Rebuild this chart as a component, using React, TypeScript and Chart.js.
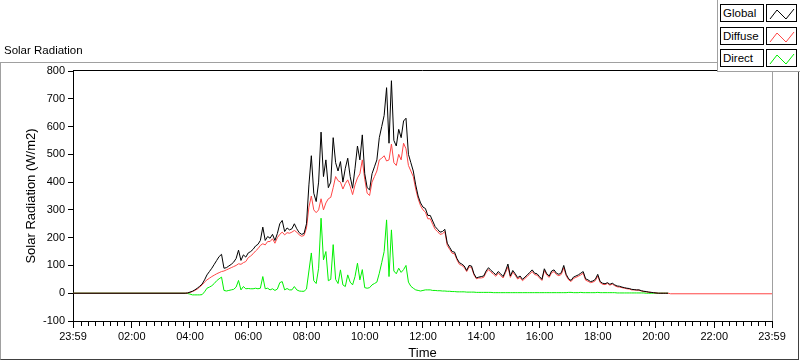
import React, { useEffect, useRef } from 'react';
import { Chart, registerables } from 'chart.js';

Chart.register(...registerables);

const FONT = '"Liberation Sans", Arial, sans-serif';

// Sample times in minutes of the day (-1 = 23:59 of the previous day)
const sampleMinutes = [
  -1,
  230, 235,
  240, 245, 250, 255, 260, 265, 270, 275, 280, 285, 290, 295,
  300, 305, 310, 315, 320, 325, 330, 335, 340, 345, 350, 355,
  360, 365, 370, 375, 380, 385, 390, 395, 400, 405, 410, 415,
  420, 425, 430, 435, 440, 445, 450, 455, 460, 465, 470, 475,
  480, 485, 490, 495, 500, 505, 510, 515, 520, 525, 530, 535,
  540, 545, 550, 555, 560, 565, 570, 575, 580, 585, 590, 595,
  600, 605, 610, 615, 620, 625, 630, 635, 640, 645, 650, 655,
  660, 665, 670, 675, 680, 685, 690, 695, 700, 705, 710, 715,
  720, 725, 730, 735, 740, 745, 750, 755, 760, 765, 770, 775,
  780, 785, 790, 795, 800, 805, 810, 815, 820, 825, 830, 835,
  840, 845, 850, 855, 860, 865, 870, 875, 880, 885, 890, 895,
  900, 905, 910, 915, 920, 925, 930, 935, 940, 945, 950, 955,
  960, 965, 970, 975, 980, 985, 990, 995, 1000, 1005, 1010, 1015,
  1020, 1025, 1030, 1035, 1040, 1045, 1050, 1055, 1060, 1065, 1070, 1075,
  1080, 1085, 1090, 1095, 1100, 1105, 1110, 1115, 1120, 1125, 1130, 1135,
  1140, 1145, 1150, 1155, 1160, 1165, 1170, 1175, 1180, 1185, 1190, 1195,
  1200, 1205, 1210, 1215, 1220, 1225,
];

const globalW = [
  0,
  0, 1,
  4, 7, 12, 18, 25, 33, 48, 66, 78, 90, 104, 118,
  132, 140, 90, 92, 98, 104, 112, 125, 155, 118, 138, 130,
  145, 150, 158, 170, 176, 190, 238, 190, 204, 198, 212, 190,
  215, 250, 262, 222, 235, 228, 232, 250, 232, 218, 212, 215,
  250, 390, 495, 360, 330, 400, 580, 420, 480, 380, 400, 560,
  470, 440, 474, 400, 450, 486, 420, 378, 450, 530, 480, 570,
  430, 380, 372, 430, 455, 480, 560, 600, 640, 740, 540, 765,
  550, 530, 590, 560, 620, 630, 500, 470, 440, 390, 350, 325,
  310, 305, 280, 280, 260, 240, 230, 220, 222, 230, 180, 165,
  150, 148, 125, 110, 105, 98, 82, 100, 98, 70, 55, 58,
  60, 62, 80, 92, 82, 75, 66, 78, 70, 60, 80, 105,
  62, 82, 70, 56, 62, 50, 58, 66, 75, 84, 72, 70,
  60, 50, 88, 70, 62, 80, 84, 72, 68, 74, 100, 68,
  52, 46, 58, 62, 66, 72, 78, 52, 48, 42, 44, 50,
  68, 42, 36, 34, 38, 32, 36, 30, 26, 25, 22, 20,
  18, 17, 14, 13, 12, 12, 9, 7, 6, 4, 3, 2,
  1, 0, 0, 0, 0, 0,
];

const diffuseW = [
  0,
  0, 1,
  3, 6, 10, 15, 22, 30, 40, 48, 54, 60, 65, 70,
  74, 78, 80, 84, 88, 92, 96, 100, 106, 104, 110, 114,
  128, 134, 142, 152, 160, 172, 178, 174, 186, 186, 196, 180,
  200, 212, 220, 210, 218, 216, 220, 226, 220, 210, 205, 208,
  235, 310, 350, 300, 290, 300, 340, 300, 325, 340, 345, 380,
  420, 405, 400, 375, 395, 408, 385, 355, 390, 415, 430, 480,
  410, 360, 352, 400, 420, 440, 480, 486, 495, 476, 480, 537,
  470, 460, 500, 480, 540, 520, 460, 440, 420, 375, 340, 315,
  300, 292, 268, 268, 248, 230, 222, 212, 214, 222, 172, 158,
  144, 142, 120, 104, 100, 93, 78, 95, 93, 66, 52, 55,
  55, 57, 74, 85, 76, 69, 61, 72, 64, 55, 74, 95,
  57, 76, 65, 51, 57, 45, 53, 61, 69, 78, 67, 65,
  55, 46, 82, 65, 57, 74, 78, 67, 63, 68, 92, 63,
  48, 42, 53, 57, 61, 66, 72, 47, 43, 38, 40, 45,
  62, 38, 32, 31, 35, 29, 33, 27, 23, 22, 20, 18,
  16, 15, 12, 12, 11, 11, 8, 6, 5, 4, 3, 2,
  1, 0, 0, 0, 0, 0,
];

// Diffuse keeps logging after the others stop
const diffuseTailMinutes = [1230, 1439];
const diffuseTailW = [-2, -2];

const directW = [
  0,
  0, -1,
  -3, -6, -6, -6, -6, -5, 5, 18, 22, 27, 35, 45,
  52, 58, 10, 8, 10, 12, 14, 22, 46, 12, 24, 16,
  17, 16, 16, 18, 16, 18, 60, 16, 18, 12, 16, 10,
  15, 38, 42, 12, 17, 12, 12, 24, 12, 8, 7, 7,
  15, 80, 145, 45, 35, 90, 270, 120, 150, 45, 50, 175,
  50, 35, 84, 30, 24, 66, 40, 30, 60, 108, 48, 85,
  20, 18, 20, 30, 35, 40, 72, 110, 150, 264, 60, 228,
  80, 70, 90, 75, 85, 100, 40, 25, 18, 12, 10, 8,
  10, 12, 12, 12, 10, 10, 9, 9, 8, 8, 7, 7,
  6, 6, 5, 5, 5, 5, 4, 4, 4, 4, 3, 3,
  3, 3, 3, 3, 3, 2, 2, 2, 2, 2, 2, 2,
  2, 2, 2, 2, 2, 2, 2, 2, 2, 2, 2, 2,
  2, 2, 2, 2, 2, 2, 2, 2, 2, 2, 2, 2,
  3, 3, 2, 2, 2, 3, 2, 2, 2, 2, 2, 2,
  3, 2, 2, 2, 2, 2, 2, 2, 1, 1, 1, 1,
  1, 1, 1, 1, 1, 1, 1, 1, 0, 0, 0, 0,
  0, 0, 0, 0, 0, 0,
];

const xMajorMinutes = [-1, 120, 240, 360, 480, 600, 720, 840, 960, 1080, 1200, 1320, 1439];
const xTickLabels = ['23:59', '02:00', '04:00', '06:00', '08:00', '10:00', '12:00', '14:00', '16:00', '18:00', '20:00', '22:00', '23:59'];
const yMin = -100;
const yMax = 800;
const yStep = 100;

const seriesNames = ['Global', 'Diffuse', 'Direct'];
const seriesColors = ['#000000', '#ff4646', '#00f000'];

const framePlugin = {
  id: 'frame',
  afterDraw(chart: any) {
    const { ctx, chartArea: a, scales } = chart;
    const xs = scales.x;
    ctx.save();
    ctx.lineWidth = 1;
    ctx.strokeStyle = '#000';
    ctx.beginPath();
    ctx.moveTo(a.left, a.top - 0.5);
    ctx.lineTo(a.right, a.top - 0.5);
    ctx.stroke();
    ctx.strokeStyle = '#a0a0a0';
    ctx.beginPath();
    ctx.moveTo(a.right + 0.5, a.top);
    ctx.lineTo(a.right + 0.5, a.bottom);
    ctx.stroke();
    ctx.strokeStyle = '#000';
    ctx.beginPath();
    for (let m = 15; m < 1440; m += 15) {
      if (m % 120 === 0) continue;
      const px = Math.round(xs.getPixelForValue(m)) + 0.5;
      ctx.moveTo(px, a.bottom);
      ctx.lineTo(px, a.bottom + 5);
    }
    ctx.stroke();
    ctx.restore();
  },
};

export default function App() {
  const ref = useRef<HTMLCanvasElement>(null);

  useEffect(() => {
    document.body.style.margin = '0';
    const canvas = ref.current!;
    const pts = (xs: number[], ys: number[]) => xs.map((x, i) => ({ x, y: ys[i] }));
    const chart = new Chart(canvas, {
      type: 'line',
      data: {
        datasets: [
          { label: seriesNames[0], data: pts(sampleMinutes, globalW), borderColor: seriesColors[0] },
          {
            label: seriesNames[1],
            data: pts(sampleMinutes, diffuseW).concat(pts(diffuseTailMinutes, diffuseTailW)),
            borderColor: seriesColors[1],
          },
          { label: seriesNames[2], data: pts(sampleMinutes, directW), borderColor: seriesColors[2] },
        ].map((d) => ({ ...d, borderWidth: 1, pointRadius: 0, tension: 0, fill: false })),
      },
      options: {
        responsive: false,
        animation: false,
        devicePixelRatio: 1,
        layout: { padding: { left: 0, right: 28, top: 71, bottom: 0 } },
        plugins: { legend: { display: false }, tooltip: { enabled: false }, title: { display: false } },
        scales: {
          x: {
            type: 'linear',
            min: -1,
            max: 1439,
            afterBuildTicks: (axis: any) => {
              axis.ticks = xMajorMinutes.map((v) => ({ value: v }));
            },
            afterFit: (s: any) => {
              s.height = 40;
            },
            ticks: {
              autoSkip: false,
              maxRotation: 0,
              padding: 2,
              color: '#000',
              font: { family: FONT, size: 11 },
              callback: (v: any) => {
                const i = xMajorMinutes.indexOf(Number(v));
                return i >= 0 ? xTickLabels[i] : '';
              },
            },
            grid: { drawOnChartArea: false, tickLength: 7, color: '#000' },
            border: { display: true, color: '#000' },
            title: { display: true, text: 'Time', color: '#000', font: { family: FONT, size: 13 }, padding: { top: 0, bottom: 0 } },
          },
          y: {
            min: yMin,
            max: yMax,
            afterFit: (s: any) => {
              s.width = 73;
            },
            ticks: { stepSize: yStep, padding: 3, color: '#000', font: { family: FONT, size: 11 } },
            grid: { drawOnChartArea: false, tickLength: 5, color: '#000' },
            border: { display: true, color: '#000' },
            title: {
              display: true,
              text: 'Solar Radiation (W/m2)',
              color: '#000',
              font: { family: FONT, size: 13 },
              padding: { top: 24, bottom: 0 },
            },
          },
        },
      },
      plugins: [framePlugin],
    } as any);
    return () => chart.destroy();
  }, []);

  const legendTops = [4, 27, 49];
  const zig = '3,14 10,5 19,14 27,4';

  return (
    <div style={{ position: 'relative', width: 800, height: 361, background: '#fff', overflow: 'hidden', fontFamily: FONT, color: '#000' }}>
      <canvas ref={ref} width={800} height={361} style={{ position: 'absolute', left: 0, top: 0 }} />
      <div
        style={{
          position: 'absolute', left: 0, top: 62, width: 799, height: 298, boxSizing: 'border-box',
          borderTop: '1px solid #a0a0a0', borderLeft: '1px solid #a0a0a0', borderRight: '1px solid #404040', borderBottom: '1px solid #404040',
          pointerEvents: 'none',
        }}
      />
      <div style={{ position: 'absolute', left: 4, top: 43, fontSize: 11.5, lineHeight: '14px', whiteSpace: 'nowrap' }}>Solar Radiation</div>
      <div
        style={{
          position: 'absolute', left: 717, top: 0, width: 83, height: 72, boxSizing: 'border-box', background: '#fff',
          borderLeft: '1px solid #a0a0a0', borderBottom: '1px solid #a0a0a0',
        }}
      />
      {seriesNames.map((name, i) => (
        <React.Fragment key={name}>
          <div
            style={{
              position: 'absolute', left: 720, top: legendTops[i], width: 44, height: 18, boxSizing: 'border-box',
              border: '1px solid #000', fontSize: 11.5, lineHeight: '16px', paddingLeft: 2, whiteSpace: 'nowrap', background: '#fff',
            }}
          >
            {name}
          </div>
          <div
            style={{
              position: 'absolute', left: 766, top: legendTops[i], width: 31, height: 18, boxSizing: 'border-box',
              border: '1px solid #000', background: '#fff',
            }}
          >
            <svg width={29} height={16} style={{ display: 'block' }}>
              <polyline points={zig} fill="none" stroke={seriesColors[i]} strokeWidth={1} />
            </svg>
          </div>
        </React.Fragment>
      ))}
    </div>
  );
}
